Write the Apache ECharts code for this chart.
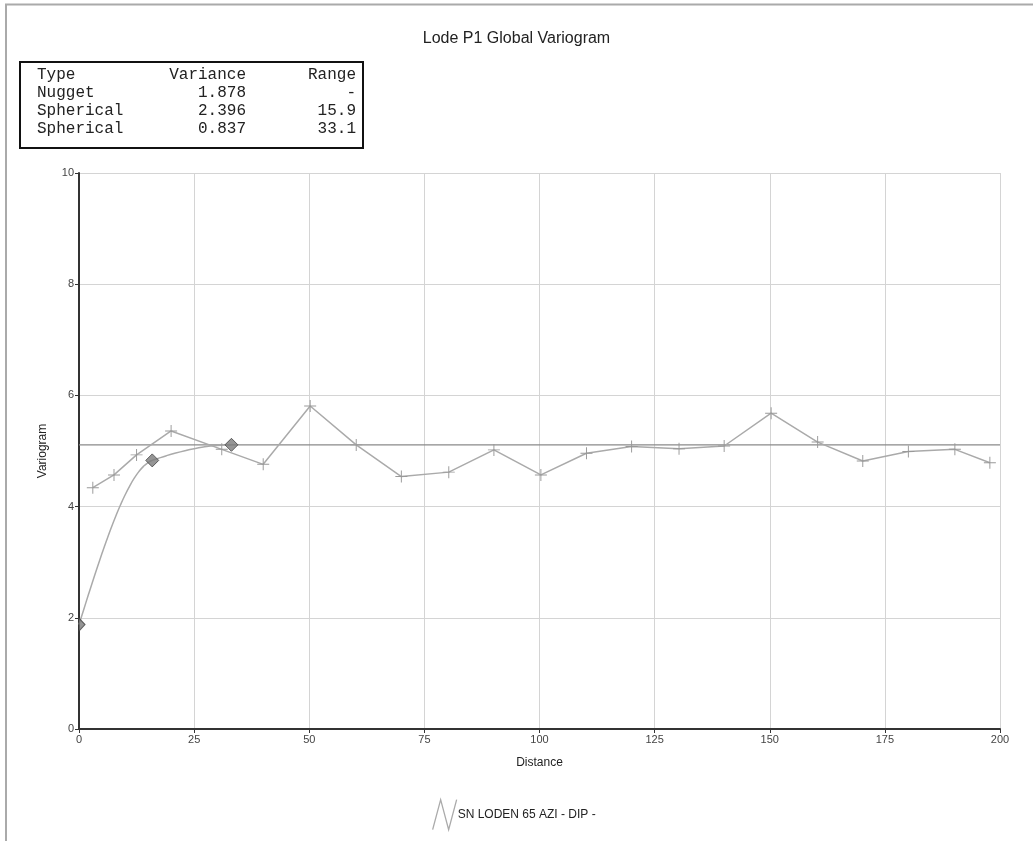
<!DOCTYPE html>
<html>
<head>
<meta charset="utf-8">
<script src="https://cdn.jsdelivr.net/npm/echarts@6/dist/echarts.min.js"></script>
<style>
html,body{margin:0;padding:0;background:#fff;}
#chart{width:1033px;height:841px;}
</style>
</head>
<body>
<div id="chart"></div>
<script>
// ---- data ----
const titleText = 'Lode P1 Global Variogram';
const legendName = 'SN LODEN 65 AZI - DIP -';
const xTicks = [0, 25, 50, 75, 100, 125, 150, 175, 200];
const yTicks = [0, 2, 4, 6, 8, 10];

// experimental variogram points
const expDist  = [3, 7.6, 12.5, 20, 31, 40, 50.2, 60.2, 70, 80.3, 90.1, 100.3, 110.2, 120, 130.3, 140.1, 150.3, 160.4, 170.2, 180.1, 190.2, 197.8];
const expGamma = [4.34, 4.57, 4.93, 5.36, 5.03, 4.76, 5.81, 5.11, 4.54, 4.62, 5.02, 4.57, 4.96, 5.08, 5.04, 5.09, 5.68, 5.16, 4.82, 4.99, 5.03, 4.79];

// model curve
const modelDist  = [0, 1, 2, 3, 4, 5, 6, 7, 8, 9, 10, 11, 12, 13, 14, 15, 15.9, 17, 19, 21, 23, 25, 27, 29, 31, 33.1];
const modelGamma = [1.878, 2.142, 2.404, 2.662, 2.914, 3.159, 3.395, 3.620, 3.831, 4.028, 4.208, 4.370, 4.511, 4.629, 4.724, 4.793, 4.831, 4.862, 4.916, 4.964, 5.006, 5.042, 5.071, 5.093, 5.106, 5.111];

// sill line
const sillDist  = [0, 200];
const sillGamma = [5.111, 5.111];

// structure markers
const structDist  = [0, 15.9, 33.1];
const structGamma = [1.878, 4.831, 5.111];

// model table
const tableHeader   = ['Type', 'Variance', 'Range'];
const tableTypes    = ['Nugget', 'Spherical', 'Spherical'];
const tableVariance = ['1.878', '2.396', '0.837'];
const tableRange    = ['-', '15.9', '33.1'];

// ---- build ----
const zip = (a, b) => a.map((v, i) => [v, b[i]]);

const tableFont = '16px "Liberation Mono", "DejaVu Sans Mono", monospace';
const tableChildren = [{
  type: 'rect',
  shape: { x: 20, y: 62, width: 343, height: 86 },
  style: { fill: '#fff', stroke: '#111', lineWidth: 2 }
}];
const rows = [tableHeader].concat(tableTypes.map((t, i) => [t, tableVariance[i], tableRange[i]]));
rows.forEach((r, i) => {
  const y = 75 + i * 18;
  tableChildren.push({ type: 'text', x: 37, y: y, style: { text: r[0], font: tableFont, fill: '#222', textAlign: 'left', textVerticalAlign: 'middle' } });
  tableChildren.push({ type: 'text', x: 246, y: y, style: { text: r[1], font: tableFont, fill: '#222', textAlign: 'right', textVerticalAlign: 'middle' } });
  tableChildren.push({ type: 'text', x: 356, y: y, style: { text: r[2], font: tableFont, fill: '#222', textAlign: 'right', textVerticalAlign: 'middle' } });
});

const chart = echarts.init(document.getElementById('chart'), null, { renderer: 'canvas' });
const plusPath = 'path://M4.6,0h0.8v10h-0.8z M0,4.6h10v0.8h-10z';

chart.setOption({
  animation: false,
  backgroundColor: '#fff',
  title: {
    text: titleText,
    left: 'center',
    top: 26,
    textStyle: { fontFamily: 'Liberation Sans, Arial, sans-serif', fontSize: 16, fontWeight: 'normal', color: '#222' }
  },
  legend: {
    data: [{ name: legendName, icon: 'path://M0,30L8,0L16,30L24,0' }],
    left: 427,
    top: 794,
    itemWidth: 24,
    itemHeight: 30,
    itemGap: 4,
    itemStyle: { color: 'transparent', borderColor: '#aaa', borderWidth: 1.3 },
    textStyle: { fontFamily: 'Liberation Sans, Arial, sans-serif', fontSize: 12, color: '#222', padding: [0, 0, 4, -4] }
  },
  grid: { left: 79, right: 33, top: 173, bottom: 112, containLabel: false },
  xAxis: {
    type: 'value',
    min: 0, max: 200, interval: 25,
    name: 'Distance',
    nameLocation: 'middle',
    nameGap: 28,
    nameTextStyle: { fontFamily: 'Liberation Sans, Arial, sans-serif', fontSize: 12, color: '#222' },
    axisLine: { onZero: false, lineStyle: { color: '#333', width: 2 } },
    axisTick: { show: true, length: 4, lineStyle: { color: '#333' } },
    axisLabel: { fontFamily: 'Liberation Sans, Arial, sans-serif', fontSize: 11, color: '#444', margin: 5,
      formatter: v => xTicks.indexOf(v) >= 0 ? String(v) : '' },
    splitLine: { show: true, lineStyle: { color: '#d4d4d4', width: 1 } }
  },
  yAxis: {
    type: 'value',
    min: 0, max: 10, interval: 2,
    name: 'Variogram',
    nameLocation: 'middle',
    nameGap: 30,
    nameTextStyle: { fontFamily: 'Liberation Sans, Arial, sans-serif', fontSize: 12, color: '#222' },
    axisLine: { show: true, onZero: false, lineStyle: { color: '#333', width: 2 } },
    axisTick: { show: true, length: 4, lineStyle: { color: '#333' } },
    axisLabel: { fontFamily: 'Liberation Sans, Arial, sans-serif', fontSize: 11, color: '#444', margin: 5,
      formatter: v => yTicks.indexOf(v) >= 0 ? String(v) : '' },
    splitLine: { show: true, lineStyle: { color: '#d4d4d4', width: 1 } }
  },
  series: [
    {
      name: 'Sill',
      type: 'line',
      data: zip(sillDist, sillGamma),
      symbol: 'none',
      lineStyle: { color: '#8a8a8a', width: 1.2 },
      z: 2,
      silent: true
    },
    {
      name: 'Model',
      type: 'line',
      data: zip(modelDist, modelGamma),
      symbol: 'none',
      smooth: true,
      lineStyle: { color: '#aaa', width: 1.5 },
      z: 3,
      silent: true
    },
    {
      name: legendName,
      type: 'line',
      data: zip(expDist, expGamma),
      symbol: plusPath,
      symbolSize: 12,
      showAllSymbol: true,
      itemStyle: { color: '#999' },
      lineStyle: { color: '#aaa', width: 1.5 },
      z: 4
    },
    {
      name: 'Structures',
      type: 'scatter',
      data: structDist.map((d, i) => i === 0
        ? { value: [d, structGamma[i]], symbol: 'path://M0,0L6,6L0,12Z', symbolSize: [6, 13], symbolOffset: [3, 0] }
        : { value: [d, structGamma[i]] }),
      symbol: 'diamond',
      symbolSize: 13,
      itemStyle: { color: '#7a7a7a', borderColor: '#444', borderWidth: 1 },
      z: 5
    }
  ],
  graphic: [
    { type: 'line', shape: { x1: 5, y1: 4.5, x2: 1033, y2: 4.5 }, style: { stroke: '#aaa', lineWidth: 2 }, silent: true },
    { type: 'line', shape: { x1: 6, y1: 4, x2: 6, y2: 841 }, style: { stroke: '#aaa', lineWidth: 2 }, silent: true },
    { type: 'group', children: tableChildren, silent: true }
  ]
});
</script>
</body>
</html>
